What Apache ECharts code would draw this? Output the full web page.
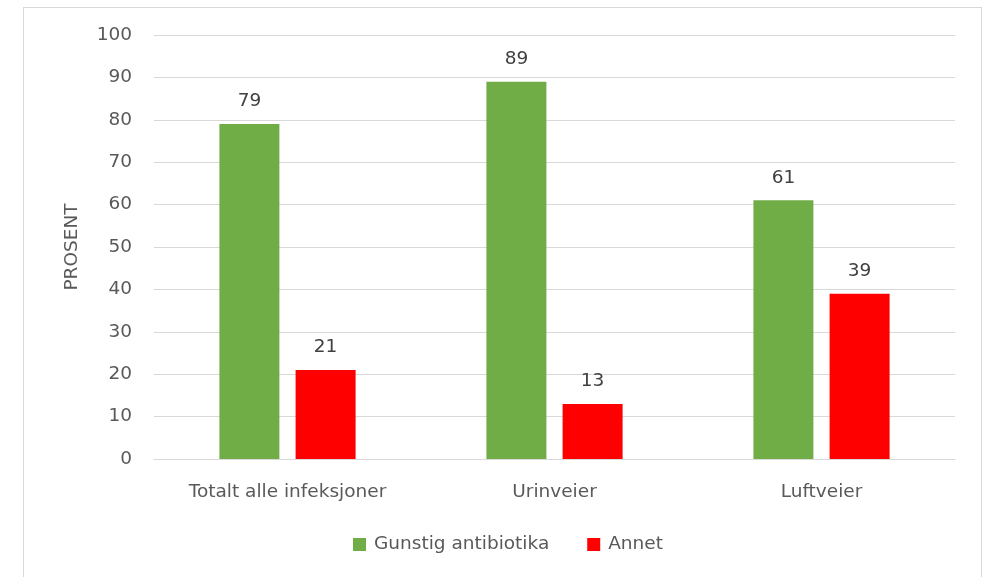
<!DOCTYPE html>
<html>
<head>
<meta charset="utf-8">
<script src="https://cdn.jsdelivr.net/npm/echarts@6/dist/echarts.min.js"></script>
<style>
  html, body { margin: 0; padding: 0; background: #fff; }
  #frame { position: absolute; left: 23px; top: 7px; width: 959px; height: 580px; border: 1px solid #d9d9d9; box-sizing: border-box; }
  #chart { position: absolute; left: 0; top: 0; width: 987px; height: 577px; }
</style>
</head>
<body>
<div id="frame"></div>
<div id="chart"></div>
<script>
var categories = ['Totalt alle infeksjoner', 'Urinveier', 'Luftveier'];
var gunstig = [79, 89, 61];
var annet = [21, 13, 39];
var seriesNames = ['Gunstig antibiotika', 'Annet'];

var font = 'DejaVu Sans, sans-serif';
var fs = 18.5;
var chart = echarts.init(document.getElementById('chart'));

var labelStyle = {
    show: true,
    position: 'top',
    distance: 13,
    color: '#404040',
    fontSize: fs,
    fontFamily: font
};

chart.setOption({
    animation: false,
    grid: { left: 154, right: 32, top: 35, bottom: 118, containLabel: false },
    legend: {
        data: seriesNames,
        bottom: 18,
        left: 348,
        itemWidth: 13,
        itemHeight: 13,
        itemGap: 38,
        icon: 'rect',
        textStyle: { color: '#595959', fontSize: fs, fontFamily: font, padding: [0, 0, 0, 3] }
    },
    xAxis: {
        type: 'category',
        data: categories,
        axisLine: { lineStyle: { color: '#d9d9d9' } },
        axisTick: { show: false },
        axisLabel: { color: '#595959', fontSize: fs, fontFamily: font, margin: 24 }
    },
    yAxis: {
        type: 'value',
        min: 0,
        max: 100,
        interval: 10,
        name: 'PROSENT',
        nameLocation: 'middle',
        nameGap: 72,
        nameTextStyle: { color: '#595959', fontSize: fs, fontFamily: font },
        axisLine: { show: false },
        axisTick: { show: false },
        axisLabel: { color: '#595959', fontSize: fs, fontFamily: font, margin: 22 },
        splitLine: { lineStyle: { color: '#d9d9d9' } }
    },
    series: [
        {
            name: seriesNames[0],
            type: 'bar',
            data: gunstig,
            barWidth: 60,
            barGap: '27%',
            itemStyle: { color: '#70ad47' },
            label: labelStyle
        },
        {
            name: seriesNames[1],
            type: 'bar',
            data: annet,
            barWidth: 60,
            itemStyle: { color: '#ff0000' },
            label: labelStyle
        }
    ]
});
</script>
</body>
</html>
